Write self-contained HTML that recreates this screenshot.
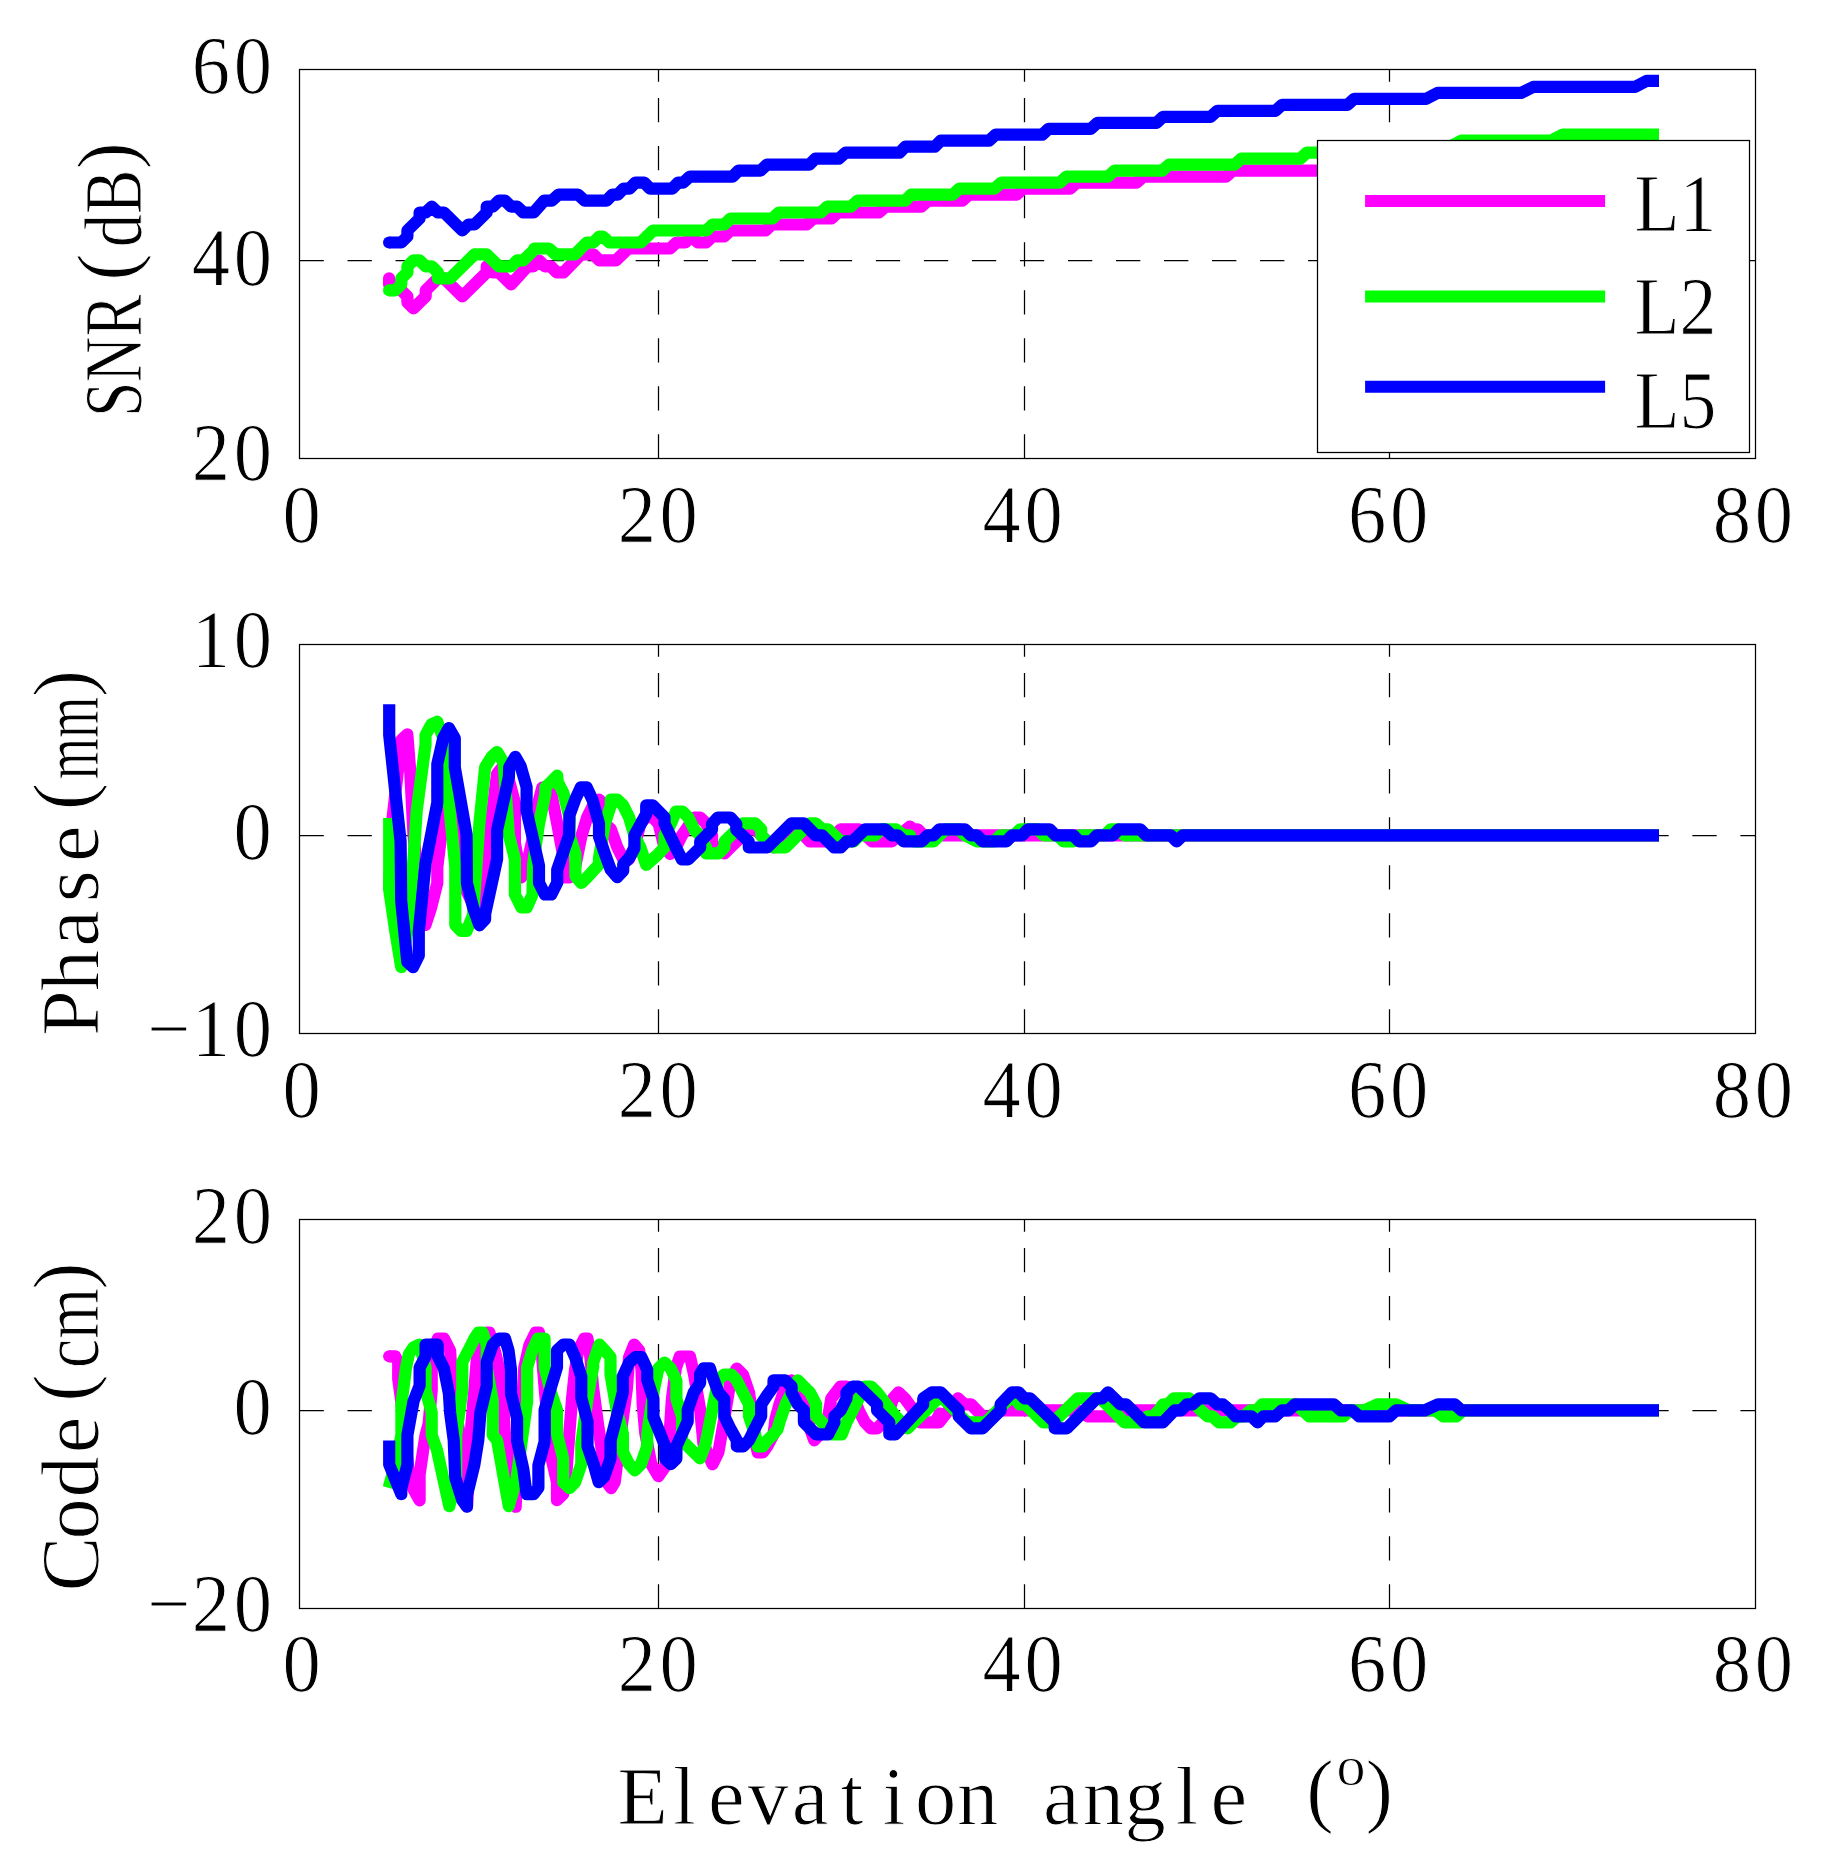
<!DOCTYPE html>
<html><head><meta charset="utf-8"><title>Elevation angle plots</title>
<style>html,body{margin:0;padding:0;background:#fff}svg{display:block}</style>
</head><body>
<svg width="1828" height="1864" viewBox="0 0 1828 1864">
<rect width="1828" height="1864" fill="#fff"/>
<g stroke="#000" stroke-width="1.25" fill="none">
<rect x="299.5" y="69.5" width="1456.0" height="389.0"/>
<path d="M658.5 69.5V81.7M658.5 434.3V458.5M658.5 386.3V410.5M658.5 338.2V362.4M658.5 290.2V314.4M658.5 242.2V266.4M658.5 194.2V218.3M658.5 146.1V170.3M658.5 98.1V122.3M1024.5 69.5V81.7M1024.5 434.3V458.5M1024.5 386.3V410.5M1024.5 338.2V362.4M1024.5 290.2V314.4M1024.5 242.2V266.4M1024.5 194.2V218.3M1024.5 146.1V170.3M1024.5 98.1V122.3M1389.5 69.5V81.7M1389.5 434.3V458.5M1389.5 386.3V410.5M1389.5 338.2V362.4M1389.5 290.2V314.4M1389.5 242.2V266.4M1389.5 194.2V218.3M1389.5 146.1V170.3M1389.5 98.1V122.3"/>
<path d="M299.5 260.5H1755.5" stroke-dasharray="24.3 23.73"/>
</g>
<g stroke="#000" stroke-width="1.25" fill="none">
<rect x="299.5" y="644.5" width="1456.0" height="389.0"/>
<path d="M658.5 644.5V656.7M658.5 1009.3V1033.5M658.5 961.3V985.5M658.5 913.2V937.4M658.5 865.2V889.4M658.5 817.2V841.4M658.5 769.1V793.4M658.5 721.1V745.3M658.5 673.1V697.3M1024.5 644.5V656.7M1024.5 1009.3V1033.5M1024.5 961.3V985.5M1024.5 913.2V937.4M1024.5 865.2V889.4M1024.5 817.2V841.4M1024.5 769.1V793.4M1024.5 721.1V745.3M1024.5 673.1V697.3M1389.5 644.5V656.7M1389.5 1009.3V1033.5M1389.5 961.3V985.5M1389.5 913.2V937.4M1389.5 865.2V889.4M1389.5 817.2V841.4M1389.5 769.1V793.4M1389.5 721.1V745.3M1389.5 673.1V697.3"/>
<path d="M299.5 835.5H1755.5" stroke-dasharray="24.3 23.73"/>
</g>
<g stroke="#000" stroke-width="1.25" fill="none">
<rect x="299.5" y="1219.5" width="1456.0" height="389.0"/>
<path d="M658.5 1219.5V1231.7M658.5 1584.3V1608.5M658.5 1536.3V1560.5M658.5 1488.2V1512.4M658.5 1440.2V1464.4M658.5 1392.2V1416.4M658.5 1344.1V1368.3M658.5 1296.1V1320.3M658.5 1248.1V1272.3M1024.5 1219.5V1231.7M1024.5 1584.3V1608.5M1024.5 1536.3V1560.5M1024.5 1488.2V1512.4M1024.5 1440.2V1464.4M1024.5 1392.2V1416.4M1024.5 1344.1V1368.3M1024.5 1296.1V1320.3M1024.5 1248.1V1272.3M1389.5 1219.5V1231.7M1389.5 1584.3V1608.5M1389.5 1536.3V1560.5M1389.5 1488.2V1512.4M1389.5 1440.2V1464.4M1389.5 1392.2V1416.4M1389.5 1344.1V1368.3M1389.5 1296.1V1320.3M1389.5 1248.1V1272.3"/>
<path d="M299.5 1410.5H1755.5" stroke-dasharray="24.3 23.73"/>
</g>
<path d="M389.1 278.4 L389.1 284.4 L395.2 284.4 L407.4 296.3 L407.4 302.3 L413.5 308.3 L419.6 302.3 L425.7 296.3 L425.7 290.3 L437.9 278.4 L444.0 278.4 L462.3 296.3 L486.7 272.4 L486.7 266.4 L492.8 272.4 L498.9 272.4 L511.1 284.4 L527.5 266.4 L533.1 266.4 L539.0 260.4 L545.0 266.4 L550.7 266.4 L556.7 272.4 L563.5 272.4 L581.0 254.4 L593.4 254.4 L599.4 260.4 L616.0 260.4 L628.3 248.5 L670.0 248.5 L676.5 242.5 L685.4 242.5 L691.5 236.5 L698.0 242.5 L706.0 242.5 L712.3 236.5 L724.0 236.5 L730.3 230.5 L765.5 230.5 L771.8 224.5 L806.7 224.5 L813.3 218.5 L831.4 218.5 L837.9 212.5 L878.9 212.5 L885.5 206.6 L921.6 206.6 L928.2 200.6 L962.6 200.6 L969.2 194.6 L1016.8 194.6 L1023.4 188.6 L1070.3 188.6 L1076.9 182.6 L1136.8 182.6 L1143.4 176.6 L1226.2 176.6 L1232.8 170.6 L1330.0 170.6" fill="none" stroke="#ff00ff" stroke-width="12.2" stroke-linejoin="round" stroke-linecap="butt"/>
<circle cx="389.1" cy="278.4" r="6.1" fill="#ff00ff"/>
<path d="M389.1 290.3 L395.2 290.3 L401.3 284.4 L401.3 278.4 L407.4 272.4 L407.4 266.4 L413.5 260.4 L419.6 260.4 L425.7 266.4 L431.8 266.4 L437.9 272.4 L437.9 278.4 L450.1 278.4 L474.5 254.4 L486.7 254.4 L498.9 266.4 L511.1 266.4 L517.2 260.4 L523.3 260.4 L535.5 248.5 L534.3 248.5 L549.0 248.5 L555.6 254.4 L575.0 254.4 L586.8 242.5 L593.4 242.5 L599.3 236.5 L602.8 236.5 L609.4 242.5 L640.7 242.5 L653.1 230.5 L706.5 230.5 L712.5 224.5 L724.3 224.5 L730.6 218.5 L772.5 218.5 L778.9 212.5 L820.8 212.5 L827.3 206.6 L851.1 206.6 L857.7 200.6 L905.3 200.6 L911.0 194.6 L952.9 194.6 L959.4 188.6 L994.7 188.6 L1001.3 182.6 L1060.0 182.6 L1066.5 176.6 L1108.1 176.6 L1114.7 170.6 L1162.3 170.6 L1168.9 164.7 L1234.5 164.7 L1241.1 158.7 L1300.2 158.7 L1306.7 152.7 L1375.0 152.7 L1386.0 146.7 L1450.0 146.7 L1461.4 140.7 L1551.0 140.7 L1562.5 134.7 L1659.0 134.7" fill="none" stroke="#00ff00" stroke-width="12.2" stroke-linejoin="round" stroke-linecap="butt"/>
<circle cx="389.1" cy="290.3" r="6.1" fill="#00ff00"/>
<path d="M389.1 242.5 L401.3 242.5 L407.4 236.5 L407.4 230.5 L419.6 218.5 L419.6 212.5 L425.7 212.5 L431.8 206.6 L437.9 212.5 L444.0 212.5 L462.3 230.5 L468.4 224.5 L474.5 224.5 L486.7 212.5 L486.7 206.6 L492.8 206.6 L498.9 200.6 L505.0 200.6 L511.1 206.6 L517.2 206.6 L523.3 212.5 L529.4 212.5 L533.7 212.5 L544.2 200.6 L552.0 200.6 L558.6 194.6 L577.9 194.6 L584.5 200.6 L606.5 200.6 L612.4 194.6 L617.7 194.6 L623.6 188.6 L629.5 188.6 L635.4 182.6 L644.2 182.6 L650.1 188.6 L672.2 188.6 L678.1 182.6 L683.3 182.6 L689.9 176.6 L732.6 176.6 L738.5 170.6 L760.5 170.6 L766.8 164.7 L809.3 164.7 L815.2 158.7 L838.8 158.7 L845.4 152.7 L899.5 152.7 L905.3 146.7 L934.8 146.7 L940.6 140.7 L989.0 140.7 L995.5 134.7 L1042.3 134.7 L1048.6 128.8 L1090.9 128.8 L1097.5 122.8 L1156.6 122.8 L1163.1 116.8 L1210.7 116.8 L1217.3 110.8 L1275.5 110.8 L1282.1 104.8 L1347.6 104.8 L1354.2 98.8 L1426.1 98.8 L1437.6 92.8 L1521.5 92.8 L1533.3 86.9 L1635.1 86.9 L1646.6 80.9 L1659.0 80.9" fill="none" stroke="#0000ff" stroke-width="12.2" stroke-linejoin="round" stroke-linecap="butt"/>
<circle cx="389.1" cy="242.5" r="6.1" fill="#0000ff"/>
<path d="M389.2 889.6 L392.5 818.8 L401.4 739.9 L407.3 734.3 L410.2 770.5 L413.5 834.9 L419.9 899.2 L425.5 925.0 L431.2 907.3 L437.3 883.1 L437.3 867.0 L443.2 818.8 L448.9 756.8 L455.3 786.6 L460.9 834.9 L466.6 891.2 L474.6 907.3 L479.4 899.2 L485.1 867.0 L491.5 818.8 L497.1 773.7 L503.6 765.6 L508.9 780.1 L514.9 802.7 L514.9 842.9 L521.3 877.5 L527.2 863.4 L533.1 836.5 L539.0 800.1 L542.2 787.7 L551.3 793.6 L557.2 823.7 L563.6 858.0 L563.6 877.3 L569.5 877.3 L575.4 865.5 L581.3 836.5 L587.2 817.2 L593.1 805.4 L599.0 799.5 L604.9 805.4 L604.9 823.7 L610.8 829.0 L617.3 847.3 L623.2 859.1 L629.1 859.1 L634.4 847.3 L640.3 823.7 L646.2 817.2 L652.7 817.2 L658.6 823.7 L664.5 847.3 L670.0 854.0 L675.9 847.5 L681.8 835.6 L694.3 817.5 L700.2 817.5 L706.1 823.4 L712.0 835.6 L712.0 843.5 L724.5 853.4 L730.4 847.5 L742.9 835.4 L748.8 829.3 L755.3 829.3 L767.2 841.4 L773.7 847.5 L792.1 829.3 L798.0 829.3 L809.8 841.4 L828.2 841.4 L840.7 829.3 L859.1 829.3 L872.2 841.4 L891.9 841.4 L910.0 826.5 L907.9 829.4 L917.7 829.4 L923.6 835.4 L1659.0 835.4" fill="none" stroke="#ff00ff" stroke-width="12.2" stroke-linejoin="round" stroke-linecap="butt"/>
<path d="M389.2 818.0 L389.2 889.6 L395.3 931.4 L401.2 967.1 L407.3 931.4 L413.5 859.0 L416.7 810.7 L425.5 744.7 L425.5 735.1 L431.2 724.6 L437.3 721.7 L443.2 738.3 L448.9 802.7 L455.3 867.0 L455.3 925.0 L460.9 930.9 L466.6 930.9 L473.0 915.3 L479.4 823.6 L485.1 767.3 L491.5 756.8 L497.1 752.0 L503.6 762.4 L508.9 834.9 L514.9 859.0 L514.9 894.4 L521.3 907.3 L526.9 907.3 L532.5 894.5 L533.1 864.4 L539.0 823.7 L545.4 793.6 L545.4 787.2 L551.3 781.8 L557.2 775.6 L557.7 781.8 L563.6 793.6 L569.5 817.2 L569.5 835.5 L575.4 853.7 L575.4 876.2 L581.3 883.0 L587.2 877.3 L593.1 870.9 L599.0 864.4 L599.0 858.0 L604.9 823.7 L610.8 805.4 L610.8 799.5 L617.3 799.5 L623.2 805.4 L629.1 817.2 L634.4 835.5 L640.3 847.3 L646.2 864.8 L652.7 859.1 L658.6 853.7 L664.5 847.3 L664.5 835.5 L670.9 823.7 L675.9 811.5 L682.5 811.5 L688.4 817.5 L694.3 829.7 L700.2 835.6 L706.1 847.5 L706.1 853.4 L718.6 853.4 L724.5 847.5 L724.5 841.6 L742.9 823.4 L755.3 823.4 L761.2 829.3 L761.2 835.6 L767.2 841.4 L773.7 847.5 L785.5 847.5 L809.8 823.4 L815.7 823.4 L822.3 829.3 L828.2 829.3 L840.7 841.4 L853.8 841.4 L859.1 835.4 L874.8 835.4 L881.4 829.3 L895.8 829.3 L903.7 835.4 L910.0 835.4 L907.9 835.4 L913.8 841.4 L933.5 841.4 L945.3 829.4 L959.1 829.4 L965.0 835.4 L976.8 841.4 L994.5 841.4 L1000.4 835.4 L1014.2 835.4 L1020.1 829.4 L1037.8 829.4 L1043.8 835.4 L1057.5 835.4 L1063.5 841.4 L1073.3 841.4 L1079.2 835.4 L1104.8 835.4 L1110.7 829.4 L1118.6 829.4 L1124.5 835.4 L1659.0 835.4" fill="none" stroke="#00ff00" stroke-width="12.2" stroke-linejoin="round" stroke-linecap="butt"/>
<path d="M389.2 704.2 L389.2 735.1 L400.6 841.3 L401.2 900.8 L407.3 962.0 L413.1 967.1 L418.8 955.6 L418.8 931.4 L425.5 863.8 L437.3 802.7 L437.3 764.0 L443.2 738.3 L448.9 728.0 L454.8 738.3 L454.8 767.3 L466.6 834.9 L466.9 883.1 L473.0 907.3 L479.4 925.3 L485.1 919.3 L485.2 913.7 L497.1 859.0 L497.1 830.0 L508.9 776.9 L509.2 767.3 L515.3 756.8 L520.7 766.3 L526.6 787.2 L526.6 810.8 L539.0 865.5 L539.0 882.7 L544.9 894.5 L551.3 894.5 L557.2 882.7 L557.2 869.8 L569.0 835.5 L569.5 815.1 L575.4 799.0 L580.8 787.4 L586.7 787.4 L592.6 800.1 L599.0 823.7 L599.0 836.5 L604.9 853.7 L610.8 869.8 L617.3 877.1 L623.2 870.9 L623.2 864.4 L629.1 858.0 L634.4 848.3 L634.4 835.5 L646.2 814.0 L646.2 805.4 L652.7 805.4 L664.5 817.2 L664.5 823.7 L675.9 847.5 L681.8 859.3 L688.4 859.3 L700.2 847.5 L700.2 841.6 L712.0 829.7 L712.0 823.8 L717.9 817.5 L730.4 817.5 L736.3 823.8 L736.3 829.7 L748.8 841.6 L748.8 847.5 L767.2 847.5 L791.4 823.4 L803.9 823.4 L815.7 835.4 L822.3 835.4 L834.1 847.5 L840.7 847.5 L846.6 841.4 L852.5 841.4 L865.0 829.3 L885.3 829.3 L891.9 835.4 L897.8 835.4 L903.7 841.4 L910.0 841.4 L921.7 841.4 L927.6 835.4 L933.5 835.4 L939.4 829.4 L965.0 829.4 L970.9 835.4 L976.8 835.4 L982.7 841.4 L1006.3 841.4 L1012.2 835.4 L1022.1 835.4 L1028.0 829.4 L1049.7 829.4 L1055.6 835.4 L1073.3 835.4 L1079.2 841.4 L1091.0 841.4 L1096.9 835.4 L1112.7 835.4 L1118.6 829.4 L1140.3 829.4 L1146.2 835.4 L1170.8 835.4 L1176.7 841.4 L1182.8 835.4 L1659.0 835.4" fill="none" stroke="#0000ff" stroke-width="12.2" stroke-linejoin="round" stroke-linecap="butt"/>
<path d="M389.2 1356.3 L395.2 1356.3 L398.2 1362.0 L398.2 1378.9 L401.3 1401.4 L406.0 1446.4 L407.4 1459.7 L409.4 1479.3 L413.5 1489.3 L419.6 1500.3 L419.6 1474.5 L423.2 1449.8 L425.6 1435.1 L428.6 1423.9 L431.7 1390.1 L431.7 1356.3 L437.9 1338.5 L444.0 1338.5 L450.1 1350.7 L451.1 1367.6 L456.2 1401.4 L456.2 1412.7 L463.5 1457.7 L467.0 1506.2 L469.1 1469.0 L471.4 1423.9 L474.4 1390.1 L477.0 1356.3 L480.6 1345.1 L486.7 1332.7 L489.4 1332.7 L492.8 1342.8 L498.9 1367.6 L502.9 1401.4 L505.0 1435.2 L506.9 1440.0 L509.8 1469.5 L515.7 1506.7 L517.1 1469.0 L521.0 1423.9 L524.3 1367.6 L529.4 1345.1 L535.5 1332.7 L539.0 1332.7 L541.6 1350.4 L544.6 1387.6 L547.7 1421.4 L550.8 1455.2 L557.0 1482.2 L557.0 1500.2 L563.2 1494.2 L566.0 1477.7 L569.4 1432.7 L572.0 1398.9 L575.1 1369.6 L578.2 1350.4 L584.3 1338.6 L587.5 1338.6 L590.4 1357.2 L593.1 1387.6 L597.6 1421.4 L602.5 1455.2 L606.6 1482.2 L611.1 1488.2 L614.7 1482.2 L616.7 1466.4 L620.9 1432.7 L627.0 1387.6 L629.1 1357.2 L634.2 1344.6 L639.2 1350.4 L641.5 1369.6 L642.7 1404.5 L645.2 1432.7 L651.3 1464.2 L658.4 1476.2 L665.2 1466.4 L669.7 1432.7 L671.9 1398.9 L675.8 1368.4 L679.8 1356.5 L690.0 1356.5 L694.0 1374.1 L700.2 1410.1 L703.5 1443.9 L712.5 1464.2 L718.4 1452.3 L724.3 1418.8 L730.7 1379.4 L736.8 1368.5 L742.9 1374.5 L749.0 1392.5 L752.5 1416.1 L755.1 1440.3 L757.8 1452.3 L763.0 1452.3 L767.2 1446.3 L773.5 1434.3 L775.5 1418.8 L779.4 1404.5 L785.6 1386.5 L791.6 1380.4 L797.8 1386.5 L803.9 1404.5 L810.0 1428.4 L814.2 1440.3 L822.2 1431.9 L828.3 1416.1 L831.3 1398.4 L840.5 1386.5 L846.5 1386.5 L852.7 1392.5 L858.7 1410.4 L864.9 1422.3 L870.9 1428.4 L877.1 1428.4 L883.2 1422.3 L889.3 1410.4 L893.0 1398.4 L898.5 1392.4 L904.8 1398.4 L913.6 1410.4 L919.8 1422.3 L935.0 1422.3 L940.0 1413.5 L934.9 1422.4 L939.0 1422.4 L957.9 1398.4 L964.5 1404.3 L971.0 1404.3 L982.5 1416.3 L989.1 1416.3 L1002.2 1410.4 L1077.7 1410.4 L1087.6 1416.3 L1117.1 1416.3 L1126.9 1410.4 L1230.0 1410.4 L1230.5 1410.4 L1659.0 1410.4" fill="none" stroke="#ff00ff" stroke-width="12.2" stroke-linejoin="round" stroke-linecap="butt"/>
<circle cx="389.2" cy="1356.3" r="6.1" fill="#ff00ff"/>
<path d="M388.7 1487.8 L397.6 1454.8 L401.4 1435.2 L401.4 1404.8 L406.0 1367.6 L408.9 1354.1 L413.5 1347.3 L419.6 1344.6 L425.6 1367.6 L425.6 1390.1 L431.7 1412.7 L431.7 1435.2 L436.9 1449.8 L449.3 1506.2 L456.2 1479.3 L456.2 1435.2 L462.3 1390.1 L462.3 1362.0 L468.3 1350.7 L474.4 1338.5 L478.1 1332.7 L482.7 1332.7 L486.7 1345.1 L486.7 1367.6 L492.8 1401.4 L492.8 1435.2 L497.0 1440.0 L508.8 1506.2 L516.4 1479.3 L521.0 1446.4 L527.1 1401.4 L527.1 1367.6 L532.2 1350.7 L537.8 1338.5 L544.6 1338.6 L544.6 1367.3 L550.8 1392.1 L557.0 1410.1 L557.0 1433.8 L563.2 1458.6 L563.2 1482.2 L569.4 1488.2 L575.1 1482.2 L581.3 1464.2 L581.3 1443.9 L587.5 1398.9 L593.1 1367.3 L593.1 1362.8 L599.3 1344.6 L604.9 1350.4 L610.5 1357.2 L610.5 1374.1 L616.7 1410.1 L622.9 1433.8 L622.9 1451.8 L629.1 1464.2 L634.8 1470.3 L641.0 1464.2 L647.2 1446.2 L647.2 1433.8 L653.4 1392.1 L658.4 1368.4 L664.6 1362.5 L670.8 1368.4 L676.4 1380.8 L676.4 1398.9 L682.1 1416.9 L682.1 1440.5 L687.7 1446.2 L700.1 1458.3 L705.3 1445.0 L713.1 1405.6 L718.4 1379.4 L724.3 1374.5 L731.5 1374.5 L736.8 1380.4 L742.9 1392.5 L749.0 1404.3 L749.0 1416.1 L755.1 1434.3 L757.8 1446.3 L763.0 1446.3 L767.2 1440.3 L773.5 1434.3 L777.5 1429.3 L779.4 1422.3 L785.6 1404.3 L791.6 1392.5 L797.8 1380.4 L803.9 1386.5 L810.0 1392.5 L816.1 1404.3 L816.1 1416.1 L822.2 1422.3 L831.3 1434.3 L841.8 1434.3 L846.5 1422.3 L852.7 1410.4 L858.7 1398.4 L864.9 1386.5 L870.9 1386.5 L877.1 1392.5 L895.4 1416.1 L901.5 1422.3 L907.6 1428.4 L913.6 1422.3 L932.0 1404.5 L938.0 1398.4 L938.0 1398.4 L943.1 1398.4 L966.9 1422.4 L985.8 1422.4 L1009.6 1398.4 L1015.3 1398.4 L1019.4 1404.3 L1025.2 1404.3 L1043.2 1422.4 L1053.1 1422.4 L1077.7 1398.4 L1100.7 1398.4 L1106.4 1404.3 L1124.5 1422.4 L1141.7 1422.4 L1147.5 1416.3 L1153.2 1416.3 L1158.9 1410.4 L1163.0 1404.3 L1168.0 1404.3 L1173.7 1398.4 L1189.3 1398.4 L1200.8 1410.4 L1207.4 1416.3 L1212.3 1416.3 L1218.8 1422.4 L1230.0 1422.4 L1230.5 1422.4 L1237.1 1416.4 L1243.6 1416.4 L1250.2 1410.4 L1256.8 1410.4 L1262.0 1404.4 L1296.2 1404.4 L1309.3 1416.4 L1343.4 1416.4 L1350.0 1410.4 L1364.4 1410.4 L1377.6 1404.4 L1395.9 1404.4 L1409.1 1410.4 L1435.3 1410.4 L1443.2 1416.4 L1456.3 1416.4 L1462.9 1410.4 L1659.0 1410.4" fill="none" stroke="#00ff00" stroke-width="12.2" stroke-linejoin="round" stroke-linecap="butt"/>
<path d="M389.2 1440.4 L389.2 1464.5 L401.3 1494.2 L401.3 1488.1 L407.4 1464.5 L407.4 1435.2 L413.5 1401.4 L419.6 1385.6 L419.6 1367.6 L425.6 1356.3 L425.6 1344.5 L437.6 1344.5 L437.9 1356.3 L444.0 1368.7 L448.9 1393.5 L450.1 1412.7 L453.7 1440.0 L455.2 1477.4 L462.3 1500.1 L467.0 1506.7 L467.0 1495.1 L474.4 1464.5 L478.3 1440.0 L480.4 1412.7 L486.7 1385.6 L486.7 1362.0 L492.8 1344.5 L498.9 1338.5 L505.0 1338.5 L508.6 1350.7 L511.0 1369.8 L511.0 1393.5 L517.1 1418.3 L517.1 1440.8 L523.3 1469.0 L526.6 1494.2 L533.5 1494.2 L538.4 1487.8 L538.4 1465.3 L544.6 1441.7 L544.6 1410.1 L550.8 1387.6 L557.0 1367.3 L557.0 1350.4 L563.2 1344.6 L569.4 1344.6 L575.1 1357.2 L581.3 1376.3 L581.3 1397.7 L587.5 1421.4 L587.5 1446.2 L593.6 1464.2 L598.7 1482.2 L604.3 1476.6 L610.5 1458.6 L610.5 1440.5 L616.7 1416.9 L622.9 1392.1 L622.9 1376.3 L629.1 1362.8 L635.3 1357.2 L641.5 1357.2 L647.2 1369.6 L647.2 1379.7 L653.4 1398.9 L653.4 1416.9 L665.2 1446.2 L665.2 1458.6 L670.8 1464.2 L676.4 1458.6 L676.4 1446.2 L687.7 1421.4 L687.7 1410.1 L693.9 1392.1 L700.1 1383.1 L700.1 1374.1 L703.5 1368.4 L710.0 1368.4 L711.8 1374.5 L718.4 1392.5 L724.3 1399.1 L724.3 1416.1 L730.7 1429.3 L736.8 1440.3 L736.8 1446.3 L743.3 1446.3 L749.0 1440.3 L755.1 1428.0 L761.2 1416.1 L761.2 1404.3 L767.2 1395.1 L773.5 1386.5 L773.5 1380.4 L785.3 1380.4 L791.6 1386.5 L791.6 1392.5 L797.8 1404.3 L803.9 1410.4 L803.9 1422.3 L816.1 1434.3 L828.3 1434.3 L834.4 1422.3 L834.4 1416.4 L840.5 1410.4 L846.5 1398.4 L846.5 1392.5 L852.7 1386.5 L858.7 1386.5 L877.1 1404.5 L877.1 1410.4 L889.3 1422.3 L889.3 1434.3 L895.4 1434.3 L923.2 1404.5 L923.2 1398.4 L932.0 1392.4 L940.0 1392.4 L940.7 1392.3 L958.7 1410.4 L958.7 1416.3 L971.0 1428.3 L982.5 1428.3 L1000.6 1410.4 L1000.6 1404.3 L1012.1 1392.3 L1018.6 1392.3 L1024.4 1398.4 L1030.1 1398.4 L1054.7 1422.4 L1054.7 1428.3 L1067.0 1428.3 L1096.6 1398.4 L1102.3 1398.4 L1108.1 1392.3 L1120.4 1404.3 L1126.1 1404.3 L1144.2 1422.4 L1163.0 1422.4 L1174.5 1410.4 L1181.1 1410.4 L1186.8 1404.3 L1192.6 1404.3 L1199.1 1398.4 L1210.6 1398.4 L1217.2 1404.3 L1222.9 1404.3 L1230.0 1410.4 L1230.0 1410.4 L1235.8 1416.4 L1251.5 1416.4 L1257.6 1422.4 L1263.3 1416.4 L1275.1 1416.4 L1281.7 1410.4 L1288.3 1410.4 L1294.8 1404.4 L1334.2 1404.4 L1340.8 1410.4 L1352.6 1410.4 L1359.2 1416.4 L1389.4 1416.4 L1395.9 1410.4 L1424.8 1410.4 L1438.0 1404.4 L1455.0 1404.4 L1461.6 1410.4 L1659.0 1410.4" fill="none" stroke="#0000ff" stroke-width="12.2" stroke-linejoin="round" stroke-linecap="butt"/>
<rect x="1317.5" y="140.5" width="432" height="312" fill="#fff" stroke="#000" stroke-width="1.25"/>
<path d="M1365.1 201.0 H1605.1" stroke="#ff00ff" stroke-width="12"/>
<path d="M1365.1 296.6 H1605.1" stroke="#00ff00" stroke-width="12"/>
<path d="M1365.1 386.7 H1605.1" stroke="#0000ff" stroke-width="12"/>
<g font-family='"Liberation Serif", serif' fill="#000" stroke="#fff" stroke-width="1.0">
<text y="542.0" font-size="81.5" transform="matrix(0.94 0 0 1 18.10 0)"><tspan x="281.2" y="542.0">0</tspan></text>
<text y="542.0" font-size="81.5" transform="matrix(0.94 0 0 1 39.47 0)"><tspan x="615.1 659.7" y="542.0">20</tspan></text>
<text y="542.0" font-size="81.5" transform="matrix(0.94 0 0 1 61.36 0)"><tspan x="979.9 1024.5" y="542.0">40</tspan></text>
<text y="542.0" font-size="81.5" transform="matrix(0.94 0 0 1 83.29 0)"><tspan x="1345.4 1390.0" y="542.0">60</tspan></text>
<text y="542.0" font-size="81.5" transform="matrix(0.94 0 0 1 105.17 0)"><tspan x="1710.2 1754.8" y="542.0">80</tspan></text>
<text y="1116.8" font-size="81.5" transform="matrix(0.94 0 0 1 18.10 0)"><tspan x="281.2" y="1116.8">0</tspan></text>
<text y="1116.8" font-size="81.5" transform="matrix(0.94 0 0 1 39.47 0)"><tspan x="615.1 659.7" y="1116.8">20</tspan></text>
<text y="1116.8" font-size="81.5" transform="matrix(0.94 0 0 1 61.36 0)"><tspan x="979.9 1024.5" y="1116.8">40</tspan></text>
<text y="1116.8" font-size="81.5" transform="matrix(0.94 0 0 1 83.29 0)"><tspan x="1345.4 1390.0" y="1116.8">60</tspan></text>
<text y="1116.8" font-size="81.5" transform="matrix(0.94 0 0 1 105.17 0)"><tspan x="1710.2 1754.8" y="1116.8">80</tspan></text>
<text y="1691.5" font-size="81.5" transform="matrix(0.94 0 0 1 18.10 0)"><tspan x="281.2" y="1691.5">0</tspan></text>
<text y="1691.5" font-size="81.5" transform="matrix(0.94 0 0 1 39.47 0)"><tspan x="615.1 659.7" y="1691.5">20</tspan></text>
<text y="1691.5" font-size="81.5" transform="matrix(0.94 0 0 1 61.36 0)"><tspan x="979.9 1024.5" y="1691.5">40</tspan></text>
<text y="1691.5" font-size="81.5" transform="matrix(0.94 0 0 1 83.29 0)"><tspan x="1345.4 1390.0" y="1691.5">60</tspan></text>
<text y="1691.5" font-size="81.5" transform="matrix(0.94 0 0 1 105.17 0)"><tspan x="1710.2 1754.8" y="1691.5">80</tspan></text>
<text y="92.9" font-size="81.5" transform="matrix(0.94 0 0 1 13.91 0)"><tspan x="189.2 233.8" y="92.9">60</tspan></text>
<text y="284.8" font-size="81.5" transform="matrix(0.94 0 0 1 13.91 0)"><tspan x="189.2 233.8" y="284.8">40</tspan></text>
<text y="480.5" font-size="81.5" transform="matrix(0.94 0 0 1 13.91 0)"><tspan x="189.2 233.8" y="480.5">20</tspan></text>
<text y="667.5" font-size="81.5" transform="matrix(0.94 0 0 1 13.91 0)"><tspan x="189.2 233.8" y="667.5">10</tspan></text>
<text y="859.5" font-size="81.5" transform="matrix(0.94 0 0 1 15.17 0)"><tspan x="232.4" y="859.5">0</tspan></text>
<text y="1056.5" font-size="81.5" transform="matrix(0.94 0 0 1 12.65 0)"><tspan x="143.3 190.5 235.1" y="1056.5">−10</tspan></text>
<text y="1242.6" font-size="81.5" transform="matrix(0.94 0 0 1 13.91 0)"><tspan x="189.2 233.8" y="1242.6">20</tspan></text>
<text y="1434.3" font-size="81.5" transform="matrix(0.94 0 0 1 15.17 0)"><tspan x="232.4" y="1434.3">0</tspan></text>
<text y="1631.2" font-size="81.5" transform="matrix(0.94 0 0 1 12.65 0)"><tspan x="143.3 190.5 235.1" y="1631.2">−20</tspan></text>
<text x="1634.5" y="231.1" font-size="82.5" textLength="82" lengthAdjust="spacingAndGlyphs">L1</text>
<text x="1634.5" y="333.5" font-size="82.5" textLength="82" lengthAdjust="spacingAndGlyphs">L2</text>
<text x="1634.5" y="428.0" font-size="82.5" textLength="82" lengthAdjust="spacingAndGlyphs">L5</text>
<text y="141.3" font-size="82.5" transform="rotate(-90)"><tspan x="-416.8" y="141.3" textLength="122.1" lengthAdjust="spacingAndGlyphs">SNR</tspan><tspan x="-280.8" y="133.8">(</tspan><tspan x="-247.3" y="141.3" textLength="77.8" lengthAdjust="spacingAndGlyphs">dB</tspan><tspan x="-169.4" y="133.8">)</tspan></text>
<text y="97.6" font-size="82.5" transform="rotate(-90)"><tspan x="-1035.9 -991.3 -946.7 -902.2 -862.1" y="97.6">Phase</tspan><tspan x="-810.2" y="90.1">(</tspan><tspan x="-779.2" y="97.6" textLength="82.3" lengthAdjust="spacingAndGlyphs">mm</tspan><tspan x="-697.3" y="90.1">)</tspan></text>
<text y="97.6" font-size="82.5" transform="rotate(-90)"><tspan x="-1591.5 -1539.6 -1497.6 -1453.3" y="97.6">Code</tspan><tspan x="-1401.7" y="90.1">(</tspan><tspan x="-1368.0" y="97.6" textLength="80.0" lengthAdjust="spacingAndGlyphs">cm</tspan><tspan x="-1289.7" y="90.1">)</tspan></text>
<text y="1824.3" font-size="82.5"><tspan x="617.4 673.0 708.1 747.6 791.8 840.5 882.4 915.1 957.0 1009.2 1043.1 1082.7 1124.5 1175.6 1210.6 1260.5" y="1824.3">Elevation angle </tspan><tspan x="1306.3" y="1816.8">(</tspan><tspan x="1336.5" y="1784.8" font-size="58" stroke-width="0.9">o</tspan><tspan x="1365.5" y="1816.8">)</tspan></text>
</g>
</svg>
</body></html>
